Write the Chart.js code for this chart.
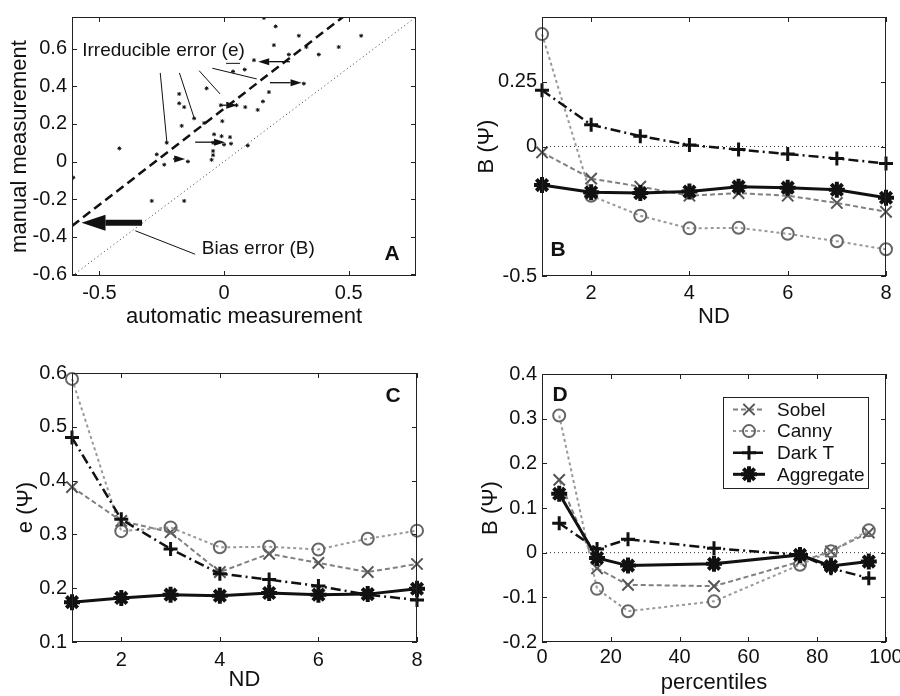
<!DOCTYPE html>
<html>
<head>
<meta charset="utf-8">
<script src="https://cdn.jsdelivr.net/npm/chart.js@4.4.0/dist/chart.umd.min.js"></script>
<style>
  html, body { margin: 0; padding: 0; background: #fff; overflow: hidden; }
  body { width: 900px; height: 696px; position: relative; }
  canvas { position: absolute; }
</style>
</head>
<body>
<canvas id="chartA" width="440" height="340" style="left:0;top:0"></canvas>
<canvas id="chartB" width="480" height="340" style="left:440px;top:0"></canvas>
<canvas id="chartC" width="440" height="346" style="left:0;top:350px"></canvas>
<canvas id="chartD" width="480" height="346" style="left:440px;top:350px"></canvas>
<script>
// ========================================
// DATA
// ========================================

// Panel A - scatter of manual vs automatic measurement
const autoMeas = [0.16, 0.207, 0.30, 0.55, 0.20, 0.33, 0.46, 0.26, 0.38, 0.12, 0.083, 0.036, 0.32,
  -0.07, -0.18, -0.18, -0.16, -0.013, 0.05, 0.085, 0.156, 0.135, 0.18, -0.12, -0.08, -0.007, -0.17,
  -0.23, -0.04, -0.01, 0.024, -0.044, 0, 0.028, 0.095, -0.044, -0.044, -0.05, -0.27, -0.24, -0.145,
  -0.19, -0.42, -0.29, -0.16, -0.605];
const manualMeas = [0.765, 0.72, 0.67, 0.67, 0.62, 0.61, 0.61, 0.57, 0.57, 0.54, 0.49, 0.48, 0.415,
  0.39, 0.36, 0.31, 0.29, 0.30, 0.30, 0.29, 0.32, 0.275, 0.37, 0.23, 0.205, 0.215, 0.19,
  0.10, 0.145, 0.135, 0.13, 0.10, 0.09, 0.095, 0.085, 0.056, 0.034, 0.009, 0.038, -0.017, 0,
  0.017, 0.07, -0.21, -0.21, -0.086];
const identityX = [-0.61, 0.77];
const identityY = [-0.61, 0.77];
const fitX = [-0.61, 0.477];
const fitY = [-0.343, 0.77];
// annotation segments [x0, y0, x1, y1] in data units
const pointerLines = [
  [-0.256, 0.472, -0.229, 0.098],
  [-0.179, 0.472, -0.119, 0.228],
  [-0.100, 0.484, -0.016, 0.360],
  [-0.047, 0.497, 0.131, 0.440],
  [0.008, 0.523, 0.064, 0.523],
  [-0.116, -0.494, -0.356, -0.369]
];
const errorArrows = [
  [0.264, 0.532, 0.137, 0.532],
  [0.184, 0.420, 0.311, 0.420],
  [-0.016, 0.300, 0.053, 0.300],
  [-0.116, 0.103, 0.004, 0.103],
  [-0.205, 0.014, -0.156, 0.014]
];
const biasArrow = [-0.329, -0.326, -0.572, -0.326];
const ticksAx = [-0.5, 0, 0.5];
const ticksAy = [-0.6, -0.4, -0.2, 0, 0.2, 0.4, 0.6];

// Panels B and C - versus ND
const ndValues = [1, 2, 3, 4, 5, 6, 7, 8];
const bSobel     = [-0.023, -0.124, -0.155, -0.19, -0.18, -0.19, -0.218, -0.252];
const bCanny     = [0.434, -0.19, -0.267, -0.316, -0.314, -0.337, -0.366, -0.397];
const bDarkT     = [0.217, 0.084, 0.04, 0.006, -0.012, -0.029, -0.046, -0.066];
const bAggregate = [-0.149, -0.177, -0.18, -0.174, -0.155, -0.159, -0.167, -0.198];
const eSobel     = [0.388, 0.325, 0.304, 0.23, 0.264, 0.247, 0.23, 0.245];
const eCanny     = [0.589, 0.306, 0.313, 0.276, 0.277, 0.272, 0.292, 0.307];
const eDarkT     = [0.48, 0.328, 0.273, 0.227, 0.216, 0.204, 0.188, 0.178];
const eAggregate = [0.174, 0.182, 0.188, 0.186, 0.191, 0.188, 0.189, 0.199];
const ticksND = [2, 4, 6, 8];
const ticksBy = [-0.5, 0, 0.25];
const ticksCy = [0.1, 0.2, 0.3, 0.4, 0.5, 0.6];

// Panel D - versus percentiles
const percentiles = [5, 16, 25, 50, 75, 84, 95];
const dSobel     = [0.163, -0.035, -0.072, -0.075, -0.02, 0.003, 0.045];
const dCanny     = [0.307, -0.081, -0.131, -0.109, -0.027, 0.003, 0.05];
const dDarkT     = [0.066, 0.008, 0.03, 0.01, -0.005, -0.035, -0.057];
const dAggregate = [0.132, -0.012, -0.029, -0.025, -0.005, -0.03, -0.02];
const ticksDx = [0, 20, 40, 60, 80, 100];
const ticksDy = [-0.2, -0.1, 0, 0.1, 0.2, 0.3, 0.4];

const seriesNames = ['Sobel', 'Canny', 'Dark T', 'Aggregate'];

// ========================================
// STYLES
// ========================================

const FONT = "'Liberation Sans', Arial, Helvetica, sans-serif";
const INK = '#111';

const seriesStyles = {
  'Sobel':     { borderColor: '#808080', borderWidth: 2, borderDash: [5, 3], pointStyle: 'crossRot', pointRadius: 8,
                 pointBorderColor: '#555', pointBorderWidth: 2, pointBackgroundColor: 'rgba(0,0,0,0)', order: 3 },
  'Canny':     { borderColor: '#999', borderWidth: 2, borderDash: [3, 3], pointStyle: 'circle', pointRadius: 6,
                 pointBorderColor: '#666', pointBorderWidth: 2, pointBackgroundColor: 'rgba(0,0,0,0)', order: 2 },
  'Dark T':    { borderColor: INK, borderWidth: 2.5, borderDash: [10, 4, 2, 4], pointStyle: 'cross', pointRadius: 7,
                 pointBorderColor: INK, pointBorderWidth: 3, pointBackgroundColor: INK, order: 1 },
  'Aggregate': { borderColor: INK, borderWidth: 3, borderDash: [], pointStyle: 'star', pointRadius: 8,
                 pointBorderColor: INK, pointBorderWidth: 4, pointBackgroundColor: INK, order: 0 }
};

// ========================================
// HELPERS
// ========================================

function series(label, xs, ys) {
  return Object.assign({
    label: label,
    data: xs.map((x, i) => ({ x: x, y: ys[i] })),
    showLine: true,
    clip: false
  }, seriesStyles[label]);
}

function zeroLine(x0, x1) {
  return {
    label: '',
    data: [{ x: x0, y: 0 }, { x: x1, y: 0 }],
    showLine: true, borderColor: '#333', borderWidth: 1, borderDash: [1, 3],
    pointRadius: 0, order: 9
  };
}

function axis(position, min, max, tickValues, size, tickPad, title, titlePad) {
  return {
    type: 'linear',
    position: position,
    min: min,
    max: max,
    afterBuildTicks: s => { s.ticks = tickValues.map(v => ({ value: v })); },
    afterFit: s => { if (position === 'left') s.width = size; else s.height = size; },
    grid: { display: false, drawTicks: false },
    border: { display: false },
    ticks: { padding: tickPad, color: INK, font: { family: FONT, size: 20 }, callback: v => String(v) },
    title: { display: true, text: title, color: INK, font: { family: FONT, size: 22, lineHeight: 1 }, padding: titlePad }
  };
}

// frame box with inward tick marks on all four sides, plus the panel letter
function framePlugin(letter, lx, ly) {
  return {
    id: 'frame' + letter,
    afterDraw(chart) {
      const { ctx, chartArea: a, scales } = chart;
      ctx.save();
      ctx.strokeStyle = '#222';
      ctx.lineWidth = 1;
      ctx.strokeRect(a.left + 0.5, a.top + 0.5, a.width - 1, a.height - 1);
      const len = 5;
      ctx.beginPath();
      scales.x.ticks.forEach(t => {
        const p = Math.round(scales.x.getPixelForValue(t.value)) + 0.5;
        ctx.moveTo(p, a.bottom); ctx.lineTo(p, a.bottom - len);
        ctx.moveTo(p, a.top); ctx.lineTo(p, a.top + len);
      });
      scales.y.ticks.forEach(t => {
        const p = Math.round(scales.y.getPixelForValue(t.value)) + 0.5;
        ctx.moveTo(a.left, p); ctx.lineTo(a.left + len, p);
        ctx.moveTo(a.right, p); ctx.lineTo(a.right - len, p);
      });
      ctx.stroke();
      ctx.fillStyle = INK;
      ctx.font = 'bold 21px ' + FONT;
      ctx.textAlign = 'center';
      ctx.textBaseline = 'middle';
      const x = lx < 0 ? a.right + lx : a.left + lx;
      const y = ly < 0 ? a.bottom + ly : a.top + ly;
      ctx.fillText(letter, x, y);
      ctx.restore();
    }
  };
}

function drawArrow(ctx, x0, y0, x1, y1, width, headLen, headHalf) {
  const ang = Math.atan2(y1 - y0, x1 - x0);
  const bx = x1 - Math.cos(ang) * headLen, by = y1 - Math.sin(ang) * headLen;
  ctx.lineWidth = width;
  ctx.beginPath();
  ctx.moveTo(x0, y0);
  ctx.lineTo(bx, by);
  ctx.stroke();
  ctx.beginPath();
  ctx.moveTo(x1, y1);
  ctx.lineTo(bx + Math.sin(ang) * headHalf, by - Math.cos(ang) * headHalf);
  ctx.lineTo(bx - Math.sin(ang) * headHalf, by + Math.cos(ang) * headHalf);
  ctx.closePath();
  ctx.fill();
}

const annotationPlugin = {
  id: 'annotA',
  afterDatasetsDraw(chart) {
    const { ctx, scales: { x, y } } = chart;
    const px = v => x.getPixelForValue(v);
    const py = v => y.getPixelForValue(v);
    ctx.save();
    ctx.strokeStyle = INK;
    ctx.fillStyle = INK;
    ctx.lineWidth = 1;
    pointerLines.forEach(s => {
      ctx.beginPath();
      ctx.moveTo(px(s[0]), py(s[1]));
      ctx.lineTo(px(s[2]), py(s[3]));
      ctx.stroke();
    });
    errorArrows.forEach(s => drawArrow(ctx, px(s[0]), py(s[1]), px(s[2]), py(s[3]), 1.3, 11, 3.5));
    drawArrow(ctx, px(biasArrow[0]), py(biasArrow[1]), px(biasArrow[2]), py(biasArrow[3]), 6, 24, 8);
    ctx.font = '19px ' + FONT;
    ctx.textBaseline = 'middle';
    ctx.textAlign = 'left';
    ctx.fillText('Irreducible error (e)', px(-0.569), py(0.592));
    ctx.fillText('Bias error (B)', px(-0.089), py(-0.463));
    ctx.restore();
  }
};

function drawMarker(ctx, style, x, y) {
  ctx.save();
  ctx.strokeStyle = style.pointBorderColor;
  ctx.fillStyle = style.pointBorderColor;
  ctx.lineWidth = style.pointBorderWidth;
  const r = style.pointRadius;
  ctx.beginPath();
  if (style.pointStyle === 'circle') {
    ctx.arc(x, y, r, 0, Math.PI * 2);
  } else {
    const arms = style.pointStyle === 'cross' ? [0] : style.pointStyle === 'crossRot' ? [Math.PI / 4] : [0, Math.PI / 4];
    arms.forEach(a0 => {
      [a0, a0 + Math.PI / 2].forEach(a => {
        ctx.moveTo(x - Math.cos(a) * r, y - Math.sin(a) * r);
        ctx.lineTo(x + Math.cos(a) * r, y + Math.sin(a) * r);
      });
    });
  }
  ctx.stroke();
  ctx.restore();
}

const legendPlugin = {
  id: 'boxLegend',
  afterDraw(chart) {
    const { ctx, chartArea: a } = chart;
    const w = 145, h = 91;
    const bx = Math.round(a.right - 18 - w), by = Math.round(a.top + 23);
    ctx.save();
    ctx.fillStyle = '#fff';
    ctx.fillRect(bx, by, w, h);
    ctx.strokeStyle = '#222';
    ctx.lineWidth = 1;
    ctx.strokeRect(bx + 0.5, by + 0.5, w, h);
    ctx.font = '19px ' + FONT;
    ctx.textBaseline = 'middle';
    seriesNames.forEach((name, i) => {
      const st = seriesStyles[name];
      const yy = by + 12.5 + i * 21.6;
      ctx.strokeStyle = st.borderColor;
      ctx.lineWidth = st.borderWidth;
      ctx.setLineDash(st.borderDash);
      ctx.beginPath();
      ctx.moveTo(bx + 10, yy);
      ctx.lineTo(bx + 42, yy);
      ctx.stroke();
      ctx.setLineDash([]);
      drawMarker(ctx, st, bx + 26, yy);
      ctx.fillStyle = INK;
      ctx.fillText(name, bx + 54, yy + 1);
    });
    ctx.restore();
  }
};

const baseOptions = {
  responsive: false,
  animation: false,
  events: [],
  plugins: { legend: { display: false }, tooltip: { enabled: false } }
};

// ========================================
// CHARTS
// ========================================

new Chart(document.getElementById('chartA'), {
  type: 'scatter',
  data: {
    datasets: [
      {
        label: 'points',
        data: autoMeas.map((x, i) => ({ x: x, y: manualMeas[i] })),
        pointStyle: 'star', pointRadius: 2, pointBorderWidth: 1,
        pointBorderColor: INK, pointBackgroundColor: INK
      },
      {
        label: 'fit',
        data: fitX.map((x, i) => ({ x: x, y: fitY[i] })),
        showLine: true, borderColor: INK, borderWidth: 2.5, borderDash: [9, 5], pointRadius: 0
      },
      {
        label: 'identity',
        data: identityX.map((x, i) => ({ x: x, y: identityY[i] })),
        showLine: true, borderColor: '#333', borderWidth: 1, borderDash: [1, 3], pointRadius: 0
      }
    ]
  },
  options: Object.assign({}, baseOptions, {
    layout: { padding: { top: 8, right: 24, left: 0, bottom: 0 } },
    scales: {
      x: axis('bottom', -0.61, 0.77, ticksAx, 64, 5, 'automatic measurement', 12.5),
      y: axis('left', -0.61, 0.77, ticksAy, 72, 5, 'manual measurement', 9)
    }
  }),
  plugins: [annotationPlugin, framePlugin('A', -24, -22)]
});

new Chart(document.getElementById('chartB'), {
  type: 'scatter',
  data: {
    datasets: [
      series('Sobel', ndValues, bSobel),
      series('Canny', ndValues, bCanny),
      series('Dark T', ndValues, bDarkT),
      series('Aggregate', ndValues, bAggregate),
      zeroLine(1, 8)
    ]
  },
  options: Object.assign({}, baseOptions, {
    layout: { padding: { top: 8, right: 34, left: 0, bottom: 0 } },
    scales: {
      x: axis('bottom', 1, 8, ticksND, 64, 5, 'ND', 12.5),
      y: axis('left', -0.5, 0.5, ticksBy, 102, 5, 'B (\u03A8)', 36)
    }
  }),
  plugins: [framePlugin('B', 16, -26)]
});

new Chart(document.getElementById('chartC'), {
  type: 'scatter',
  data: {
    datasets: [
      series('Sobel', ndValues, eSobel),
      series('Canny', ndValues, eCanny),
      series('Dark T', ndValues, eDarkT),
      series('Aggregate', ndValues, eAggregate)
    ]
  },
  options: Object.assign({}, baseOptions, {
    layout: { padding: { top: 23, right: 23, left: 0, bottom: 0 } },
    scales: {
      x: axis('bottom', 1, 8, ticksND, 54, 6, 'ND', 5.5),
      y: axis('left', 0.1, 0.6, ticksCy, 72, 5, 'e (\u03A8)', 14.5)
    }
  }),
  plugins: [framePlugin('C', -24, 23)]
});

new Chart(document.getElementById('chartD'), {
  type: 'scatter',
  data: {
    datasets: [
      series('Sobel', percentiles, dSobel),
      series('Canny', percentiles, dCanny),
      series('Dark T', percentiles, dDarkT),
      series('Aggregate', percentiles, dAggregate),
      zeroLine(0, 100)
    ]
  },
  options: Object.assign({}, baseOptions, {
    layout: { padding: { top: 24, right: 34, left: 0, bottom: 0 } },
    scales: {
      x: axis('bottom', 0, 100, ticksDx, 54, 3, 'percentiles', 2.5),
      y: axis('left', -0.2, 0.4, ticksDy, 102, 5, 'B (\u03A8)', 39.5)
    }
  }),
  plugins: [framePlugin('D', 18, 21), legendPlugin]
});
</script>
</body>
</html>
